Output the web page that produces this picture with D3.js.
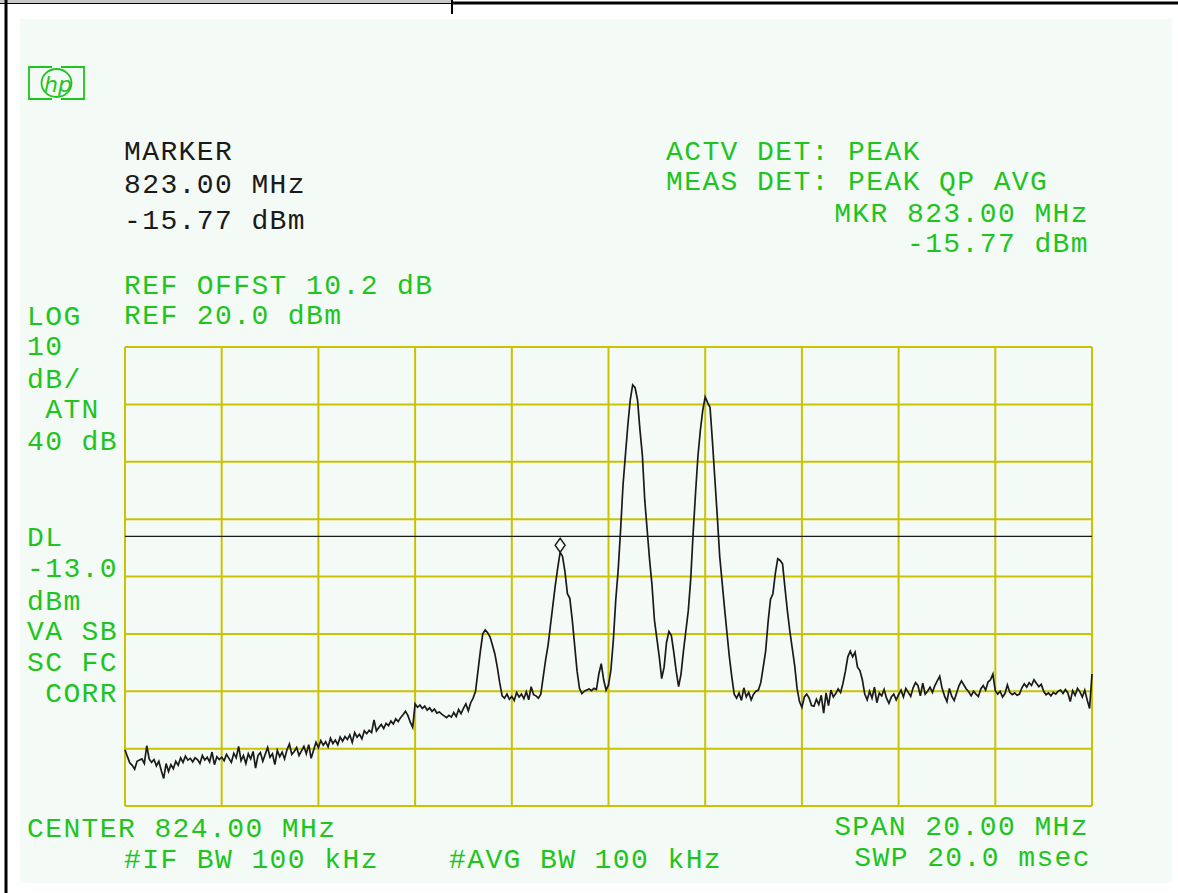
<!DOCTYPE html>
<html><head><meta charset="utf-8">
<script src="https://cdn.jsdelivr.net/npm/d3@7"></script>
<style>
html,body{margin:0;padding:0;background:#fff;}
svg{display:block;}
text{font-family:"Liberation Mono","DejaVu Sans Mono",monospace;font-size:28px;letter-spacing:1.4px;}
</style></head>
<body>
<svg id="chart" width="1178" height="893"></svg>
<script>
// ---- data ----
const startFreqMHz = 814;
const stopFreqMHz = 834;
const refLevelDbm = 20;
const bottomLevelDbm = -60;
const freqTicks = [814, 816, 818, 820, 822, 824, 826, 828, 830, 832, 834];
const levelTicks = [-60, -50, -40, -30, -20, -10, 0, 10, 20];
const displayLineDbm = -13.0;
const markerFreqMHz = 823.00;
const markerLevelDbm = -15.77;
// 401 trace points, 0.05 MHz apart, in dBm
const traceDbm = [
-50.2,-51.4,-52.5,-52.9,-53.6,-52.2,-52.0,-51.8,-52.6,-49.5,
-51.8,-52.4,-51.9,-53.0,-52.2,-53.8,-55.2,-52.6,-54.0,-52.8,
-53.5,-52.2,-52.9,-51.6,-52.4,-51.3,-52.0,-51.7,-52.3,-51.6,
-51.9,-52.6,-51.2,-52.0,-51.5,-52.3,-50.6,-52.8,-51.4,-51.9,
-51.5,-52.1,-51.0,-51.7,-52.4,-50.8,-51.6,-49.6,-52.1,-51.2,
-52.6,-50.9,-51.8,-50.5,-53.4,-51.2,-50.7,-52.2,-51.0,-49.8,
-51.5,-50.9,-52.8,-50.3,-51.4,-50.6,-51.8,-50.2,-49.2,-51.0,
-50.5,-49.8,-51.2,-50.4,-49.6,-50.9,-49.3,-51.7,-50.3,-48.9,
-49.8,-48.6,-49.4,-48.8,-49.7,-48.2,-49.1,-48.5,-49.3,-48.0,
-48.7,-47.9,-48.4,-47.6,-48.9,-47.2,-48.0,-47.5,-48.3,-46.9,
-47.4,-46.8,-47.2,-45.0,-46.9,-46.3,-45.8,-46.5,-45.6,-46.0,
-45.2,-45.7,-44.8,-45.3,-44.6,-44.1,-43.5,-44.2,-45.4,-46.3,
-42.2,-42.8,-42.4,-43.0,-42.6,-43.3,-42.9,-43.5,-43.1,-43.8,
-43.6,-44.0,-44.3,-44.6,-44.2,-44.5,-43.7,-44.4,-43.2,-43.9,
-43.0,-42.2,-43.4,-42.0,-41.2,-40.0,-36.5,-33.0,-30.0,-29.3,
-29.8,-30.5,-32.0,-33.5,-35.8,-38.5,-40.8,-41.2,-40.5,-41.4,
-40.9,-41.6,-40.2,-41.0,-40.5,-41.3,-40.1,-41.5,-39.2,-40.6,
-40.8,-41.2,-40.5,-37.5,-34.5,-32.0,-28.5,-25.0,-21.5,-18.5,
-15.77,-16.5,-19.2,-23.0,-23.8,-27.5,-32.0,-36.5,-39.5,-40.4,
-40.0,-39.8,-39.6,-39.9,-39.5,-39.7,-37.0,-35.2,-38.0,-39.8,
-38.9,-36.3,-31.1,-24.1,-18.9,-11.9,-4.1,1.2,6.4,10.8,
13.4,12.9,10.8,5.6,1.2,-6.7,-11.9,-17.1,-21.5,-27.6,
-30.8,-34.0,-37.8,-35.8,-31.5,-29.6,-30.3,-33.2,-36.5,-39.2,
-37.0,-33.0,-29.5,-26.0,-20.5,-12.5,-5.5,1.0,5.5,9.0,
11.3,10.3,9.5,3.5,-3.0,-9.5,-16.5,-21.0,-25.5,-29.8,
-34.0,-37.5,-40.5,-41.2,-40.3,-41.6,-39.4,-41.0,-40.2,-41.5,
-40.5,-40.0,-39.8,-38.5,-35.8,-33.0,-28.0,-24.0,-23.0,-19.5,
-16.9,-17.2,-17.8,-22.0,-26.0,-29.5,-32.5,-35.5,-39.5,-41.8,
-42.8,-41.0,-40.5,-41.2,-42.5,-42.6,-41.4,-42.3,-40.7,-43.8,
-40.3,-42.5,-39.8,-41.0,-40.4,-39.6,-40.2,-38.6,-36.5,-34.0,
-33.0,-34.0,-33.2,-35.8,-36.4,-38.0,-40.5,-41.5,-40.0,-41.2,
-39.3,-42.0,-40.3,-40.8,-39.7,-41.2,-42.1,-41.0,-40.5,-41.5,
-40.6,-39.8,-41.0,-39.5,-40.2,-40.9,-39.4,-38.5,-39.0,-40.8,
-38.6,-40.5,-40.0,-39.3,-40.2,-39.0,-38.2,-37.4,-39.5,-40.8,
-41.8,-39.5,-40.9,-41.6,-40.3,-39.0,-38.2,-38.9,-39.6,-40.1,
-40.8,-40.0,-40.5,-40.9,-39.6,-39.0,-39.8,-38.4,-38.0,-37.0,
-39.9,-40.5,-40.0,-41.0,-40.4,-38.9,-40.2,-40.6,-40.3,-40.7,
-40.5,-39.4,-38.7,-39.3,-38.5,-39.0,-38.0,-38.6,-39.2,-38.8,
-40.0,-40.6,-40.3,-40.8,-40.2,-40.5,-40.0,-39.8,-40.4,-39.7,
-40.3,-41.8,-39.9,-40.7,-39.5,-40.1,-41.0,-39.8,-41.5,-43.0,
-37.0
];
// annotation texts
const markerTexts = ["MARKER", "823.00 MHz", "-15.77 dBm"];
const refTexts = ["REF OFFST 10.2 dB", "REF 20.0 dBm"];
const detTexts = ["ACTV DET: PEAK", "MEAS DET: PEAK QP AVG"];
const mkrTexts = ["MKR 823.00 MHz", "-15.77 dBm"];
const leftTexts = ["LOG", "10", "dB/", " ATN", "40 dB", "DL", "-13.0", "dBm", "VA SB", "SC FC", " CORR"];
const bottomLeftTexts = ["CENTER 824.00 MHz", "#IF BW 100 kHz", "#AVG BW 100 kHz"];
const bottomRightTexts = ["SPAN 20.00 MHz", "SWP 20.0 msec"];

// ---- drawing ----
const GREEN = "#1fc41f", GRID = "#c9c300", BLACK = "#1a1a1a";
const svg = d3.select("#chart");
const x = d3.scaleLinear().domain([startFreqMHz, stopFreqMHz]).range([125, 1092]);
const y = d3.scaleLinear().domain([bottomLevelDbm, refLevelDbm]).range([806, 347]);
const step = (stopFreqMHz - startFreqMHz) / (traceDbm.length - 1);

// frame decoration
svg.append("rect").attr("x", 0).attr("y", 0).attr("width", 452).attr("height", 3).attr("fill", "#c8c8c8");
svg.append("line").attr("x1", 0).attr("x2", 452).attr("y1", 3.5).attr("y2", 3.5).attr("stroke", "#000").attr("stroke-width", 1);
svg.append("line").attr("x1", 452).attr("x2", 1178).attr("y1", 3).attr("y2", 3).attr("stroke", "#000").attr("stroke-width", 3);
svg.append("line").attr("x1", 452).attr("x2", 452).attr("y1", 0).attr("y2", 14).attr("stroke", "#000").attr("stroke-width", 2);
svg.append("line").attr("x1", 6).attr("x2", 6).attr("y1", 0).attr("y2", 893).attr("stroke", "#000").attr("stroke-width", 3);
svg.append("rect").attr("x", 20).attr("y", 19).attr("width", 1152).attr("height", 864).attr("fill", "#f4faf6");

// hp logo
const logo = svg.append("g").attr("fill", "none").attr("stroke", GREEN).attr("stroke-width", 1.8);
logo.append("path").attr("d", "M52,67 H29 V99 H52 M61,67 H84 V99 H61");
logo.append("ellipse").attr("cx", 56.5).attr("cy", 83).attr("rx", 15).attr("ry", 14);
logo.append("text").attr("x", 44).attr("y", 92).attr("fill", GREEN).attr("stroke", "none")
  .style("font-family", "DejaVu Sans").style("font-size", "22px").style("font-style", "italic").style("letter-spacing", "0px").text("hp");

// grid
const g = svg.append("g");
g.selectAll("line.v").data(freqTicks).join("line").attr("class", "v")
  .attr("x1", d => x(d)).attr("x2", d => x(d)).attr("y1", y(refLevelDbm)).attr("y2", y(bottomLevelDbm))
  .attr("stroke", GRID).attr("stroke-width", 2);
g.selectAll("line.h").data(levelTicks).join("line").attr("class", "h")
  .attr("x1", x(startFreqMHz)).attr("x2", x(stopFreqMHz)).attr("y1", d => y(d)).attr("y2", d => y(d))
  .attr("stroke", GRID).attr("stroke-width", 2);

// display line
svg.append("line").attr("x1", x(startFreqMHz)).attr("x2", x(stopFreqMHz))
  .attr("y1", y(displayLineDbm)).attr("y2", y(displayLineDbm)).attr("stroke", BLACK).attr("stroke-width", 1.4);

// trace
const line = d3.line().x((d, i) => x(startFreqMHz + i * step)).y(d => y(d));
svg.append("path").datum(traceDbm).attr("d", line).attr("fill", "none")
  .attr("stroke", BLACK).attr("stroke-width", 1.7).attr("stroke-linejoin", "miter");

// marker diamond
const mx = x(markerFreqMHz), my = y(markerLevelDbm);
svg.append("path").attr("d", `M${mx},${my} L${mx - 5},${my - 7} L${mx},${my - 14} L${mx + 5},${my - 7} Z`)
  .attr("fill", "#f4faf6").attr("stroke", BLACK).attr("stroke-width", 1.4);

// texts
function put(txt, xx, yy, color, anchor) {
  svg.append("text").attr("x", xx).attr("y", yy).attr("fill", color)
    .attr("text-anchor", anchor || "start").attr("xml:space", "preserve").style("white-space", "pre").text(txt);
}
[160, 193, 229].forEach((yy, i) => put(markerTexts[i], 124, yy, BLACK));
[294, 324].forEach((yy, i) => put(refTexts[i], 124, yy, GREEN));
[160, 190].forEach((yy, i) => put(detTexts[i], 666, yy, GREEN));
[222, 252].forEach((yy, i) => put(mkrTexts[i], 1089, yy, GREEN, "end"));
[325, 355, 388, 418, 450, 546, 577, 610, 640, 671, 702].forEach((yy, i) => put(leftTexts[i], 27, yy, GREEN));
put(bottomLeftTexts[0], 27, 837, GREEN);
put(bottomLeftTexts[1], 124, 868, GREEN);
put(bottomLeftTexts[2], 449, 868, GREEN);
put(bottomRightTexts[0], 1089, 835, GREEN, "end");
put(bottomRightTexts[1], 1091, 866, GREEN, "end");
</script>
</body></html>
